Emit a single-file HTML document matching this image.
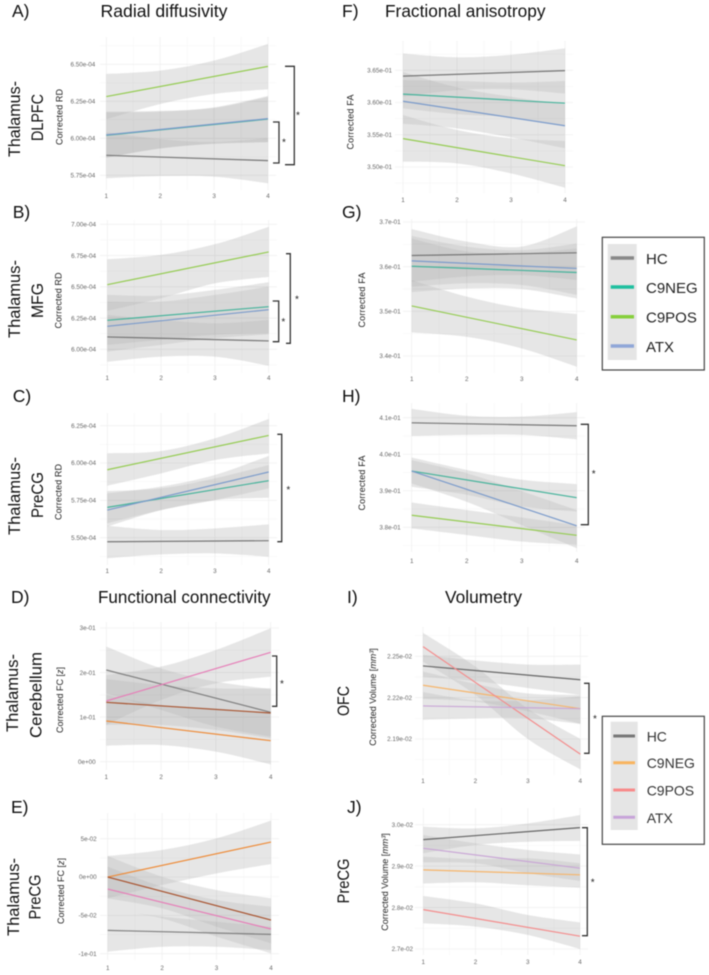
<!DOCTYPE html>
<html lang="en">
<head>
<meta charset="utf-8">
<title>Thalamic radial diffusivity, fractional anisotropy, connectivity and volumetry</title>
<style>
html,body{margin:0;padding:0;background:#fff;width:709px;height:975px;overflow:hidden}
svg{display:block;filter:blur(0.4px);font-family:"Liberation Sans",sans-serif}
.head{font-size:17.5px;fill:#111}
.row{font-size:17px;fill:#111}
.ytitle{font-size:9px;fill:#222}
.tick{font-size:6.3px;fill:#666}
.star{font-size:10px;fill:#222;text-anchor:middle}
.brk{fill:none;stroke:#333;stroke-width:1.3}
</style>
</head>
<body>
<svg id="figure" width="709" height="975" viewBox="0 0 709 975" xmlns="http://www.w3.org/2000/svg">
<defs>
<filter id="ribbon-overlap" color-interpolation-filters="sRGB" x="-5%" y="-5%" width="110%" height="110%">
<feComponentTransfer><feFuncA type="gamma" amplitude="0.5" exponent="0.7" offset="0"/></feComponentTransfer>
</filter>
</defs>
<rect width="709" height="975" fill="#fff"/>
<g id="panels"></g>

<text class="head" x="100.5" y="17" textLength="127" lengthAdjust="spacingAndGlyphs">Radial diffusivity</text>
<text class="head" x="385" y="17" textLength="160.5" lengthAdjust="spacingAndGlyphs">Fractional anisotropy</text>
<text class="head" x="98" y="603" textLength="172.5" lengthAdjust="spacingAndGlyphs">Functional connectivity</text>
<text class="head" x="445" y="603" textLength="77" lengthAdjust="spacingAndGlyphs">Volumetry</text>

<text class="head" x="12" y="17">A)</text>
<text class="head" x="12.7" y="218">B)</text>
<text class="head" x="12.7" y="402">C)</text>
<text class="head" x="11" y="603">D)</text>
<text class="head" x="11" y="813">E)</text>
<text class="head" x="342" y="17">F)</text>
<text class="head" x="342" y="218">G)</text>
<text class="head" x="342" y="402">H)</text>
<text class="head" x="347" y="603">I)</text>
<text class="head" x="347" y="813">J)</text>

<g text-anchor="middle">
<text class="row" transform="translate(20,119) rotate(-90)" textLength="76" lengthAdjust="spacingAndGlyphs">Thalamus-</text>
<text class="row" transform="translate(43,117.5) rotate(-90)" textLength="47" lengthAdjust="spacingAndGlyphs">DLPFC</text>
<text class="row" transform="translate(20,299) rotate(-90)" textLength="78" lengthAdjust="spacingAndGlyphs">Thalamus-</text>
<text class="row" transform="translate(43,300.5) rotate(-90)" textLength="35" lengthAdjust="spacingAndGlyphs">MFG</text>
<text class="row" transform="translate(20,496) rotate(-90)" textLength="78" lengthAdjust="spacingAndGlyphs">Thalamus-</text>
<text class="row" transform="translate(43,495) rotate(-90)" textLength="46" lengthAdjust="spacingAndGlyphs">PreCG</text>
<text class="row" transform="translate(18,693) rotate(-90)" textLength="78" lengthAdjust="spacingAndGlyphs">Thalamus-</text>
<text class="row" transform="translate(41.6,695) rotate(-90)" textLength="86" lengthAdjust="spacingAndGlyphs">Cerebellum</text>
<text class="row" transform="translate(19,897) rotate(-90)" textLength="78" lengthAdjust="spacingAndGlyphs">Thalamus-</text>
<text class="row" transform="translate(40.7,897) rotate(-90)" textLength="45" lengthAdjust="spacingAndGlyphs">PreCG</text>
<text class="row" transform="translate(349,701) rotate(-90)" textLength="30" lengthAdjust="spacingAndGlyphs">OFC</text>
<text class="row" transform="translate(349,881) rotate(-90)" textLength="45" lengthAdjust="spacingAndGlyphs">PreCG</text>

<text class="ytitle" transform="translate(62.7,117) rotate(-90)" textLength="56">Corrected RD</text>
<text class="ytitle" transform="translate(61.5,300.5) rotate(-90)" textLength="56">Corrected RD</text>
<text class="ytitle" transform="translate(61.5,492) rotate(-90)" textLength="56">Corrected RD</text>
<text class="ytitle" transform="translate(353.5,122) rotate(-90)" textLength="55">Corrected FA</text>
<text class="ytitle" transform="translate(365,300) rotate(-90)" textLength="55">Corrected FA</text>
<text class="ytitle" transform="translate(365,483) rotate(-90)" textLength="55">Corrected FA</text>
<text class="ytitle" transform="translate(63,700) rotate(-90)">Corrected FC [<tspan font-style="italic">z</tspan>]</text>
<text class="ytitle" transform="translate(64,891) rotate(-90)">Corrected FC [<tspan font-style="italic">z</tspan>]</text>
<text class="ytitle" transform="translate(376,697) rotate(-90)">Corrected Volume [<tspan font-style="italic">mm³</tspan>]</text>
<text class="ytitle" transform="translate(388,882) rotate(-90)">Corrected Volume [<tspan font-style="italic">mm³</tspan>]</text>
</g>

<path class="brk" d="M285 66.3H294.3V164.7H285"/>
<text class="star" x="298" y="118.5">*</text>
<path class="brk" d="M273 122H279V163H273"/>
<text class="star" x="284" y="145.5">*</text>
<path class="brk" d="M286 253.7H290.3V343.3H286"/>
<text class="star" x="297" y="302.5">*</text>
<path class="brk" d="M272.7 301H278.7V341.7H272.7"/>
<text class="star" x="283.3" y="324.8">*</text>
<path class="brk" d="M277.3 434.3H281.7V541.7H277.3"/>
<text class="star" x="288.3" y="493.2">*</text>
<path class="brk" d="M580.7 424.3H588.3V524.7H580.7"/>
<text class="star" x="593.7" y="477.2">*</text>
<path class="brk" d="M272 656H276.7V706.3H272"/>
<text class="star" x="282" y="687.2">*</text>
<path class="brk" d="M584 683.3H589V753.3H584"/>
<text class="star" x="595" y="721.8">*</text>
<path class="brk" d="M582 827.7H587.3V935.7H582"/>
<text class="star" x="592.7" y="885.5">*</text>

<g>
<rect x="602.3" y="237.3" width="102" height="132.7" fill="#fff" stroke="#444" stroke-width="1.2"/>
<rect x="607.7" y="244" width="29" height="116" fill="#e5e5e5"/>
<g><line x1="610.7" x2="634" y1="258" y2="258" stroke="#888" stroke-width="3.5"/><text x="646" y="264" font-size="15" fill="#222">HC</text></g>
<g><line x1="610.7" x2="634" y1="287" y2="287" stroke="#1fbf9f" stroke-width="3.5"/><text x="646" y="293" font-size="15" fill="#222">C9NEG</text></g>
<g><line x1="610.7" x2="634" y1="316.7" y2="316.7" stroke="#86cf3c" stroke-width="3.5"/><text x="646" y="322.7" font-size="15" fill="#222">C9POS</text></g>
<g><line x1="610.7" x2="634" y1="346" y2="346" stroke="#8fa6d8" stroke-width="3.5"/><text x="646" y="352" font-size="15" fill="#222">ATX</text></g>
</g>

<g>
<rect x="602.3" y="716.3" width="102" height="128" fill="#fff" stroke="#444" stroke-width="1.2"/>
<rect x="610.7" y="721.7" width="27" height="108.3" fill="#e5e5e5"/>
<g><line x1="613.3" x2="635" y1="736" y2="736" stroke="#777" stroke-width="3"/><text x="646.7" y="741.5" font-size="14" fill="#333">HC</text></g>
<g><line x1="613.3" x2="635" y1="762.7" y2="762.7" stroke="#f9b45e" stroke-width="3"/><text x="646.7" y="768.2" font-size="14" fill="#333">C9NEG</text></g>
<g><line x1="613.3" x2="635" y1="790" y2="790" stroke="#f88a8a" stroke-width="3"/><text x="646.7" y="795.5" font-size="14" fill="#333">C9POS</text></g>
<g><line x1="613.3" x2="635" y1="817.3" y2="817.3" stroke="#c7a3d9" stroke-width="3"/><text x="646.7" y="822.8" font-size="14" fill="#333">ATX</text></g>
</g>
</svg>

<script>
// Shared x axis
const timepoints = [1, 2, 3, 4];
const timepointLabels = ['1', '2', '3', '4'];
const minorTimepoints = [1.5, 2.5, 3.5];

// Panel A: radial diffusivity, thalamus-DLPFC (x 1e-4)
const aTicks = [5.75, 6, 6.25, 6.5];
const aTickLabels = ['5.75e-04', '6.00e-04', '6.25e-04', '6.50e-04'];
const aHcUpper = [6.041, 5.995, 5.975, 6.002];
const aHcLower = [5.730, 5.745, 5.741, 5.696];
const aHcLine = [5.885, 5.849];
const aNegUpper = [6.18, 6.185, 6.205, 6.28];
const aNegLower = [5.87, 5.93, 5.965, 5.975];
const aNegLine = [6.02, 6.13];
const aPosUpper = [6.435, 6.457, 6.525, 6.637];
const aPosLower = [6.128, 6.232, 6.300, 6.331];
const aPosLine = [6.282, 6.486];
const aAtxUpper = [6.176, 6.180, 6.209, 6.286];
const aAtxLower = [5.869, 5.932, 5.962, 5.973];
const aAtxLine = [6.023, 6.133];

// Panel B: radial diffusivity, thalamus-MFG (x 1e-4)
const bTicks = [6, 6.25, 6.5, 6.75, 7];
const bTickLabels = ['6.00e-04', '6.25e-04', '6.50e-04', '6.75e-04', '7.00e-04'];
const bHcUpper = [6.275, 6.235, 6.208, 6.235];
const bHcLower = [5.901, 5.941, 5.941, 5.869];
const bHcLine = [6.099, 6.067];
const bNegUpper = [6.435, 6.429, 6.475, 6.536];
const bNegLower = [6.035, 6.075, 6.115, 6.128];
const bNegLine = [6.232, 6.341];
const bPosUpper = [6.72, 6.755, 6.84, 6.979];
const bPosLower = [6.307, 6.408, 6.528, 6.579];
const bPosLine = [6.517, 6.779];
const bAtxUpper = [6.381, 6.381, 6.435, 6.501];
const bAtxLower = [5.981, 6.035, 6.088, 6.12];
const bAtxLine = [6.184, 6.317];

// Panel C: radial diffusivity, thalamus-PreCG (x 1e-4)
const cTicks = [5.5, 5.75, 6, 6.25];
const cTickLabels = ['5.50e-04', '5.75e-04', '6.00e-04', '6.25e-04'];
const cHcUpper = [5.58, 5.551, 5.562, 5.589];
const cHcLower = [5.362, 5.388, 5.395, 5.373];
const cHcLine = [5.473, 5.48];
const cNegUpper = [5.812, 5.83, 5.897, 5.987];
const cNegLower = [5.596, 5.685, 5.752, 5.768];
const cNegLine = [5.703, 5.882];
const cPosUpper = [6.065, 6.08, 6.165, 6.295];
const cPosLower = [5.848, 5.931, 6.02, 6.065];
const cPosLine = [5.955, 6.185];
const cAtxUpper = [5.797, 5.842, 5.92, 6.047];
const cAtxLower = [5.574, 5.685, 5.752, 5.83];
const cAtxLine = [5.685, 5.94];

// Panel D: functional connectivity, thalamus-cerebellum (x 1e-1)
const dTicks = [0, 1, 2, 3];
const dTickLabels = ['0e+00', '1e-01', '2e-01', '3e-01'];
const dHcUpper = [2.581, 2.095, 1.796, 1.631];
const dHcLower = [1.534, 1.16, 0.786, 0.562];
const dHcLine = [2.058, 1.108];
const dNegUpper = [1.497, 1.272, 1.197, 1.085];
const dNegLower = [0.36, 0.375, 0.225, -0.059];
const dNegLine = [0.913, 0.472];
const dPosUpper = [1.945, 2.132, 2.506, 2.993];
const dPosLower = [0.824, 1.384, 1.758, 1.908];
const dPosLine = [1.362, 2.454];
const dAtxUpper = [1.856, 1.721, 1.646, 1.646];
const dAtxLower = [0.824, 0.824, 0.711, 0.524];
const dAtxLine = [1.332, 1.093];

// Panel E: functional connectivity, thalamus-PreCG (x 1e-2)
const eTicks = [-10, -5, 0, 5];
const eTickLabels = ['-1e-01', '-5e-02', '0e+00', '5e-02'];
const eHcUpper = [-4.22, -5.17, -5.83, -6.48];
const eHcLower = [-9.74, -9.09, -9.09, -9.52];
const eHcLine = [-6.96, -7.48];
const eNegUpper = [2.74, 3.52, 5.04, 7.35];
const eNegLower = [-2.78, -1.04, 0.48, 1.7];
const eNegLine = [0, 4.565];
const ePosUpper = [1.35, -1.26, -3, -3.87];
const ePosLower = [-4.22, -5.39, -7.78, -9.96];
const ePosLine = [-1.565, -6.78];
const eAtxUpper = [2.74, 0.04, -1.7, -2.78];
const eAtxLower = [-2.78, -4.09, -6.48, -8.65];
const eAtxLine = [0, -5.61];

// Panel F: fractional anisotropy, thalamus-DLPFC (x 1e-1)
const fTicks = [3.5, 3.55, 3.6, 3.65];
const fTickLabels = ['3.50e-01', '3.55e-01', '3.60e-01', '3.65e-01'];
const fHcUpper = [3.676, 3.670, 3.674, 3.684];
const fHcLower = [3.609, 3.619, 3.6205, 3.614];
const fHcLine = [3.641, 3.6495];
const fNegUpper = [3.635, 3.6334, 3.631, 3.6334];
const fNegLower = [3.591, 3.582, 3.577, 3.565];
const fNegLine = [3.613, 3.599];
const fPosUpper = [3.5807, 3.5574, 3.5445, 3.5403];
const fPosLower = [3.5083, 3.5057, 3.4901, 3.4679];
const fPosLine = [3.544, 3.502];
const fAtxUpper = [3.6474, 3.6236, 3.609, 3.597];
const fAtxLower = [3.567, 3.560, 3.546, 3.529];
const fAtxLine = [3.602, 3.564];

// Panel G: fractional anisotropy, thalamus-MFG (x 1e-1)
const gTicks = [3.4, 3.5, 3.6, 3.7];
const gTickLabels = ['3.4e-01', '3.5e-01', '3.6e-01', '3.7e-01'];
const gHcUpper = [3.684, 3.656, 3.645, 3.690];
const gHcLower = [3.566, 3.578, 3.581, 3.570];
const gHcLine = [3.625, 3.631];
const gNegUpper = [3.663, 3.634, 3.63, 3.641];
const gNegLower = [3.543, 3.551, 3.55, 3.529];
const gNegLine = [3.601, 3.587];
const gPosUpper = [3.57, 3.533, 3.507, 3.494];
const gPosLower = [3.453, 3.443, 3.417, 3.376];
const gPosLine = [3.512, 3.436];
const gAtxUpper = [3.669, 3.645, 3.637, 3.652];
const gAtxLower = [3.555, 3.563, 3.559, 3.537];
const gAtxLine = [3.613, 3.596];

// Panel H: fractional anisotropy, thalamus-PreCG (x 1e-1)
const hTicks = [3.8, 3.9, 4, 4.1];
const hTickLabels = ['3.8e-01', '3.9e-01', '4.0e-01', '4.1e-01'];
const hHcUpper = [4.124, 4.105, 4.103, 4.115];
const hHcLower = [4.05, 4.053, 4.053, 4.041];
const hHcLine = [4.086, 4.078];
const hNegUpper = [3.991, 3.957, 3.93, 3.918];
const hNegLower = [3.911, 3.889, 3.857, 3.843];
const hNegLine = [3.954, 3.881];
const hPosUpper = [3.868, 3.847, 3.827, 3.806];
const hPosLower = [3.797, 3.779, 3.761, 3.752];
const hPosLine = [3.833, 3.778];
const hAtxUpper = [3.984, 3.948, 3.899, 3.847];
const hAtxLower = [3.92, 3.870, 3.806, 3.743];
const hAtxLine = [3.954, 3.804];

// Panel I: volumetry, OFC (x 1e-2)
const iTicks = [2.19, 2.22, 2.25];
const iTickLabels = ['2.19e-02', '2.22e-02', '2.25e-02'];
const iHcUpper = [2.251, 2.247, 2.244, 2.244];
const iHcLower = [2.235, 2.232, 2.227, 2.222];
const iHcLine = [2.243, 2.233];
const iNegUpper = [2.239, 2.230, 2.223, 2.222];
const iNegLower = [2.219, 2.217, 2.21, 2.201];
const iNegLine = [2.229, 2.212];
const iPosUpper = [2.267, 2.2425, 2.212, 2.19];
const iPosLower = [2.246, 2.222, 2.19, 2.168];
const iPosLine = [2.257, 2.179];
const iAtxUpper = [2.224, 2.218, 2.218, 2.221];
const iAtxLower = [2.204, 2.205, 2.205, 2.201];
const iAtxLine = [2.214, 2.212];

// Panel J: volumetry, PreCG (x 1e-2)
const jTicks = [2.7, 2.8, 2.9, 3];
const jTickLabels = ['2.7e-02', '2.8e-02', '2.9e-02', '3.0e-02'];
const jHcUpper = [2.995, 2.991, 3.003, 3.023];
const jHcLower = [2.931, 2.951, 2.959, 2.961];
const jHcLine = [2.964, 2.993];
const jNegUpper = [2.923, 2.917, 2.919, 2.907];
const jNegLower = [2.858, 2.861, 2.854, 2.848];
const jNegLine = [2.891, 2.879];
const jPosUpper = [2.828, 2.81, 2.782, 2.764];
const jPosLower = [2.762, 2.754, 2.734, 2.7];
const jPosLine = [2.795, 2.731];
const jAtxUpper = [2.975, 2.955, 2.939, 2.928];
const jAtxLower = [2.909, 2.907, 2.883, 2.864];
const jAtxLine = [2.943, 2.895];

const NS = 'http://www.w3.org/2000/svg';
const diffusionColors = { hc: '#777777', neg: '#45b39b', pos: '#95cc52', atx: '#7b9bcb' };
const connectivityColors = { hc: '#808080', neg: '#ee8c3a', pos: '#e67fb8', atx: '#a8532f' };
const volumeColors = { hc: '#666666', neg: '#f6b56b', pos: '#f48d8d', atx: '#c9a6d6' };

const panels = [
  { id: 'a', colors: diffusionColors, ticks: aTicks, labels: aTickLabels, hc: [aHcUpper, aHcLower, aHcLine], neg: [aNegUpper, aNegLower, aNegLine], pos: [aPosUpper, aPosLower, aPosLine], atx: [aAtxUpper, aAtxLower, aAtxLine],
    x1: 106.3, x4: 268, yLo: 175.3, yHi: 64.3, top: 37, bottom: 190, left: 100, right: 276, labelRight: 95.3, xLabelY: 198 },
  { id: 'b', colors: diffusionColors, ticks: bTicks, labels: bTickLabels, hc: [bHcUpper, bHcLower, bHcLine], neg: [bNegUpper, bNegLower, bNegLine], pos: [bPosUpper, bPosLower, bPosLine], atx: [bAtxUpper, bAtxLower, bAtxLine],
    x1: 107.3, x4: 268.7, yLo: 349.3, yHi: 224.3, top: 220, bottom: 373, left: 100, right: 277, labelRight: 96, xLabelY: 380 },
  { id: 'c', colors: diffusionColors, ticks: cTicks, labels: cTickLabels, hc: [cHcUpper, cHcLower, cHcLine], neg: [cNegUpper, cNegLower, cNegLine], pos: [cPosUpper, cPosLower, cPosLine], atx: [cAtxUpper, cAtxLower, cAtxLine],
    x1: 107.3, x4: 268.7, yLo: 537.7, yHi: 425.7, top: 413, bottom: 565, left: 100, right: 277, labelRight: 96, xLabelY: 573 },
  { id: 'd', colors: connectivityColors, ticks: dTicks, labels: dTickLabels, hc: [dHcUpper, dHcLower, dHcLine], neg: [dNegUpper, dNegLower, dNegLine], pos: [dPosUpper, dPosLower, dPosLine], atx: [dAtxUpper, dAtxLower, dAtxLine],
    x1: 106.3, x4: 270.7, yLo: 761.7, yHi: 628, top: 622, bottom: 770, left: 100, right: 279, labelRight: 95.7, xLabelY: 779 },
  { id: 'e', colors: connectivityColors, ticks: eTicks, labels: eTickLabels, hc: [eHcUpper, eHcLower, eHcLine], neg: [eNegUpper, eNegLower, eNegLine], pos: [ePosUpper, ePosLower, ePosLine], atx: [eAtxUpper, eAtxLower, eAtxLine],
    x1: 107.7, x4: 271, yLo: 953.7, yHi: 838.7, top: 813, bottom: 960, left: 100, right: 279, labelRight: 96.7, xLabelY: 970 },
  { id: 'f', colors: diffusionColors, ticks: fTicks, labels: fTickLabels, hc: [fHcUpper, fHcLower, fHcLine], neg: [fNegUpper, fNegLower, fNegLine], pos: [fPosUpper, fPosLower, fPosLine], atx: [fAtxUpper, fAtxLower, fAtxLine],
    x1: 403, x4: 565, yLo: 167, yHi: 70.3, top: 41, bottom: 193, left: 395, right: 573, labelRight: 392, xLabelY: 202 },
  { id: 'g', colors: diffusionColors, ticks: gTicks, labels: gTickLabels, hc: [gHcUpper, gHcLower, gHcLine], neg: [gNegUpper, gNegLower, gNegLine], pos: [gPosUpper, gPosLower, gPosLine], atx: [gAtxUpper, gAtxLower, gAtxLine],
    x1: 411.7, x4: 576.7, yLo: 356, yHi: 222, top: 219, bottom: 373, left: 403, right: 585, labelRight: 400.7, xLabelY: 381 },
  { id: 'h', colors: diffusionColors, ticks: hTicks, labels: hTickLabels, hc: [hHcUpper, hHcLower, hHcLine], neg: [hNegUpper, hNegLower, hNegLine], pos: [hPosUpper, hPosLower, hPosLine], atx: [hAtxUpper, hAtxLower, hAtxLine],
    x1: 411.7, x4: 576.7, yLo: 527.3, yHi: 417.7, top: 403, bottom: 552, left: 403, right: 585, labelRight: 400.7, xLabelY: 563 },
  { id: 'i', colors: volumeColors, ticks: iTicks, labels: iTickLabels, hc: [iHcUpper, iHcLower, iHcLine], neg: [iNegUpper, iNegLower, iNegLine], pos: [iPosUpper, iPosLower, iPosLine], atx: [iAtxUpper, iAtxLower, iAtxLine],
    x1: 423, x4: 580.3, yLo: 739, yHi: 656.3, top: 627, bottom: 775, left: 415, right: 588, labelRight: 412, xLabelY: 783 },
  { id: 'j', colors: volumeColors, ticks: jTicks, labels: jTickLabels, hc: [jHcUpper, jHcLower, jHcLine], neg: [jNegUpper, jNegLower, jNegLine], pos: [jPosUpper, jPosLower, jPosLine], atx: [jAtxUpper, jAtxLower, jAtxLine],
    x1: 423.3, x4: 580, yLo: 949, yHi: 824.7, top: 808, bottom: 955, left: 415, right: 588, labelRight: 413, xLabelY: 964 }
];

const seriesKeys = ['hc', 'neg', 'pos', 'atx'];
const seriesNames = { hc: 'hc', neg: 'c9neg', pos: 'c9pos', atx: 'atx' };

function makeEl(tag, attrs, parent) {
  const el = document.createElementNS(NS, tag);
  for (const k in attrs) el.setAttribute(k, attrs[k]);
  parent.appendChild(el);
  return el;
}

function curveThrough(pts) {
  let d = '';
  for (let i = 0; i < pts.length - 1; i++) {
    const p0 = pts[Math.max(i - 1, 0)];
    const p1 = pts[i];
    const p2 = pts[i + 1];
    const p3 = pts[Math.min(i + 2, pts.length - 1)];
    const c1x = p1[0] + (p2[0] - p0[0]) / 6;
    const c1y = p1[1] + (p2[1] - p0[1]) / 6;
    const c2x = p2[0] - (p3[0] - p1[0]) / 6;
    const c2y = p2[1] - (p3[1] - p1[1]) / 6;
    d += ' C' + c1x.toFixed(2) + ' ' + c1y.toFixed(2) + ' ' + c2x.toFixed(2) + ' ' + c2y.toFixed(2) + ' ' + p2[0].toFixed(2) + ' ' + p2[1].toFixed(2);
  }
  return d;
}

function drawPanel(p, root) {
  const xScale = function (v) { return p.x1 + (v - 1) * (p.x4 - p.x1) / 3; };
  const loTick = p.ticks[0];
  const hiTick = p.ticks[p.ticks.length - 1];
  const yScale = function (v) { return p.yLo + (v - loTick) * (p.yHi - p.yLo) / (hiTick - loTick); };
  const yInvert = function (y) { return loTick + (y - p.yLo) * (hiTick - loTick) / (p.yHi - p.yLo); };

  const g = makeEl('g', {}, root);
  
  

  // Minor grid
  const step = p.ticks[1] - p.ticks[0];
  const first = Math.ceil((yInvert(p.bottom) - loTick) / step - 0.5);
  const last = Math.floor((yInvert(p.top) - loTick) / step - 0.5);
  for (let k = first; k <= last; k++) {
    const gy = yScale(loTick + (k + 0.5) * step);
    const minorH = makeEl('line', { x1: p.left, x2: p.right, y1: gy, y2: gy, stroke: '#f7f7f7', 'stroke-width': 0.7 }, g);
    
    
  }
  minorTimepoints.forEach(function (t) {
    const minorV = makeEl('line', { x1: xScale(t), x2: xScale(t), y1: p.top, y2: p.bottom, stroke: '#f7f7f7', 'stroke-width': 0.7 }, g);
    
    
  });

  // Major grid and tick labels
  p.ticks.forEach(function (t, i) {
    const gridH = makeEl('line', { x1: p.left, x2: p.right, y1: yScale(t), y2: yScale(t), stroke: '#f0f0f0', 'stroke-width': 0.8 }, g);
    
    
    const lab = makeEl('text', { class: 'tick', x: p.labelRight, y: yScale(t) + 2.2, 'text-anchor': 'end' }, g);
    lab.textContent = p.labels[i];
    
    
  });
  timepoints.forEach(function (t, i) {
    const gridV = makeEl('line', { x1: xScale(t), x2: xScale(t), y1: p.top, y2: p.bottom, stroke: '#f0f0f0', 'stroke-width': 0.8 }, g);
    
    
    const lab = makeEl('text', { class: 'tick', x: xScale(t), y: p.xLabelY, 'text-anchor': 'middle' }, g);
    lab.textContent = timepointLabels[i];
    
    
  });

  // Confidence ribbons: grouped so overlaps stay as pale as the reference
  const ribbons = makeEl('g', { filter: 'url(#ribbon-overlap)' }, g);
  
  
  seriesKeys.forEach(function (key) {
    const upper = p[key][0].map(function (v, i) { return [xScale(timepoints[i]), yScale(v)]; });
    const lower = p[key][1].map(function (v, i) { return [xScale(timepoints[i]), yScale(v)]; }).reverse();
    const d = 'M' + upper[0][0].toFixed(2) + ' ' + upper[0][1].toFixed(2) + curveThrough(upper) +
      ' L' + lower[0][0].toFixed(2) + ' ' + lower[0][1].toFixed(2) + curveThrough(lower) + ' Z';
    const band = makeEl('path', { d: d, fill: '#000', 'fill-opacity': 0.1 }, ribbons);
    
    
  });

  // Regression lines
  seriesKeys.forEach(function (key) {
    const vals = p[key][2];
    const ln = makeEl('line', {
      x1: xScale(1), y1: yScale(vals[0]), x2: xScale(4), y2: yScale(vals[1]),
      stroke: p.colors[key], 'stroke-width': 1.2
    }, g);
    
    
  });
}

const panelRoot = document.getElementById('panels');
panels.forEach(function (p) { drawPanel(p, panelRoot); });
</script>
</body>
</html>
